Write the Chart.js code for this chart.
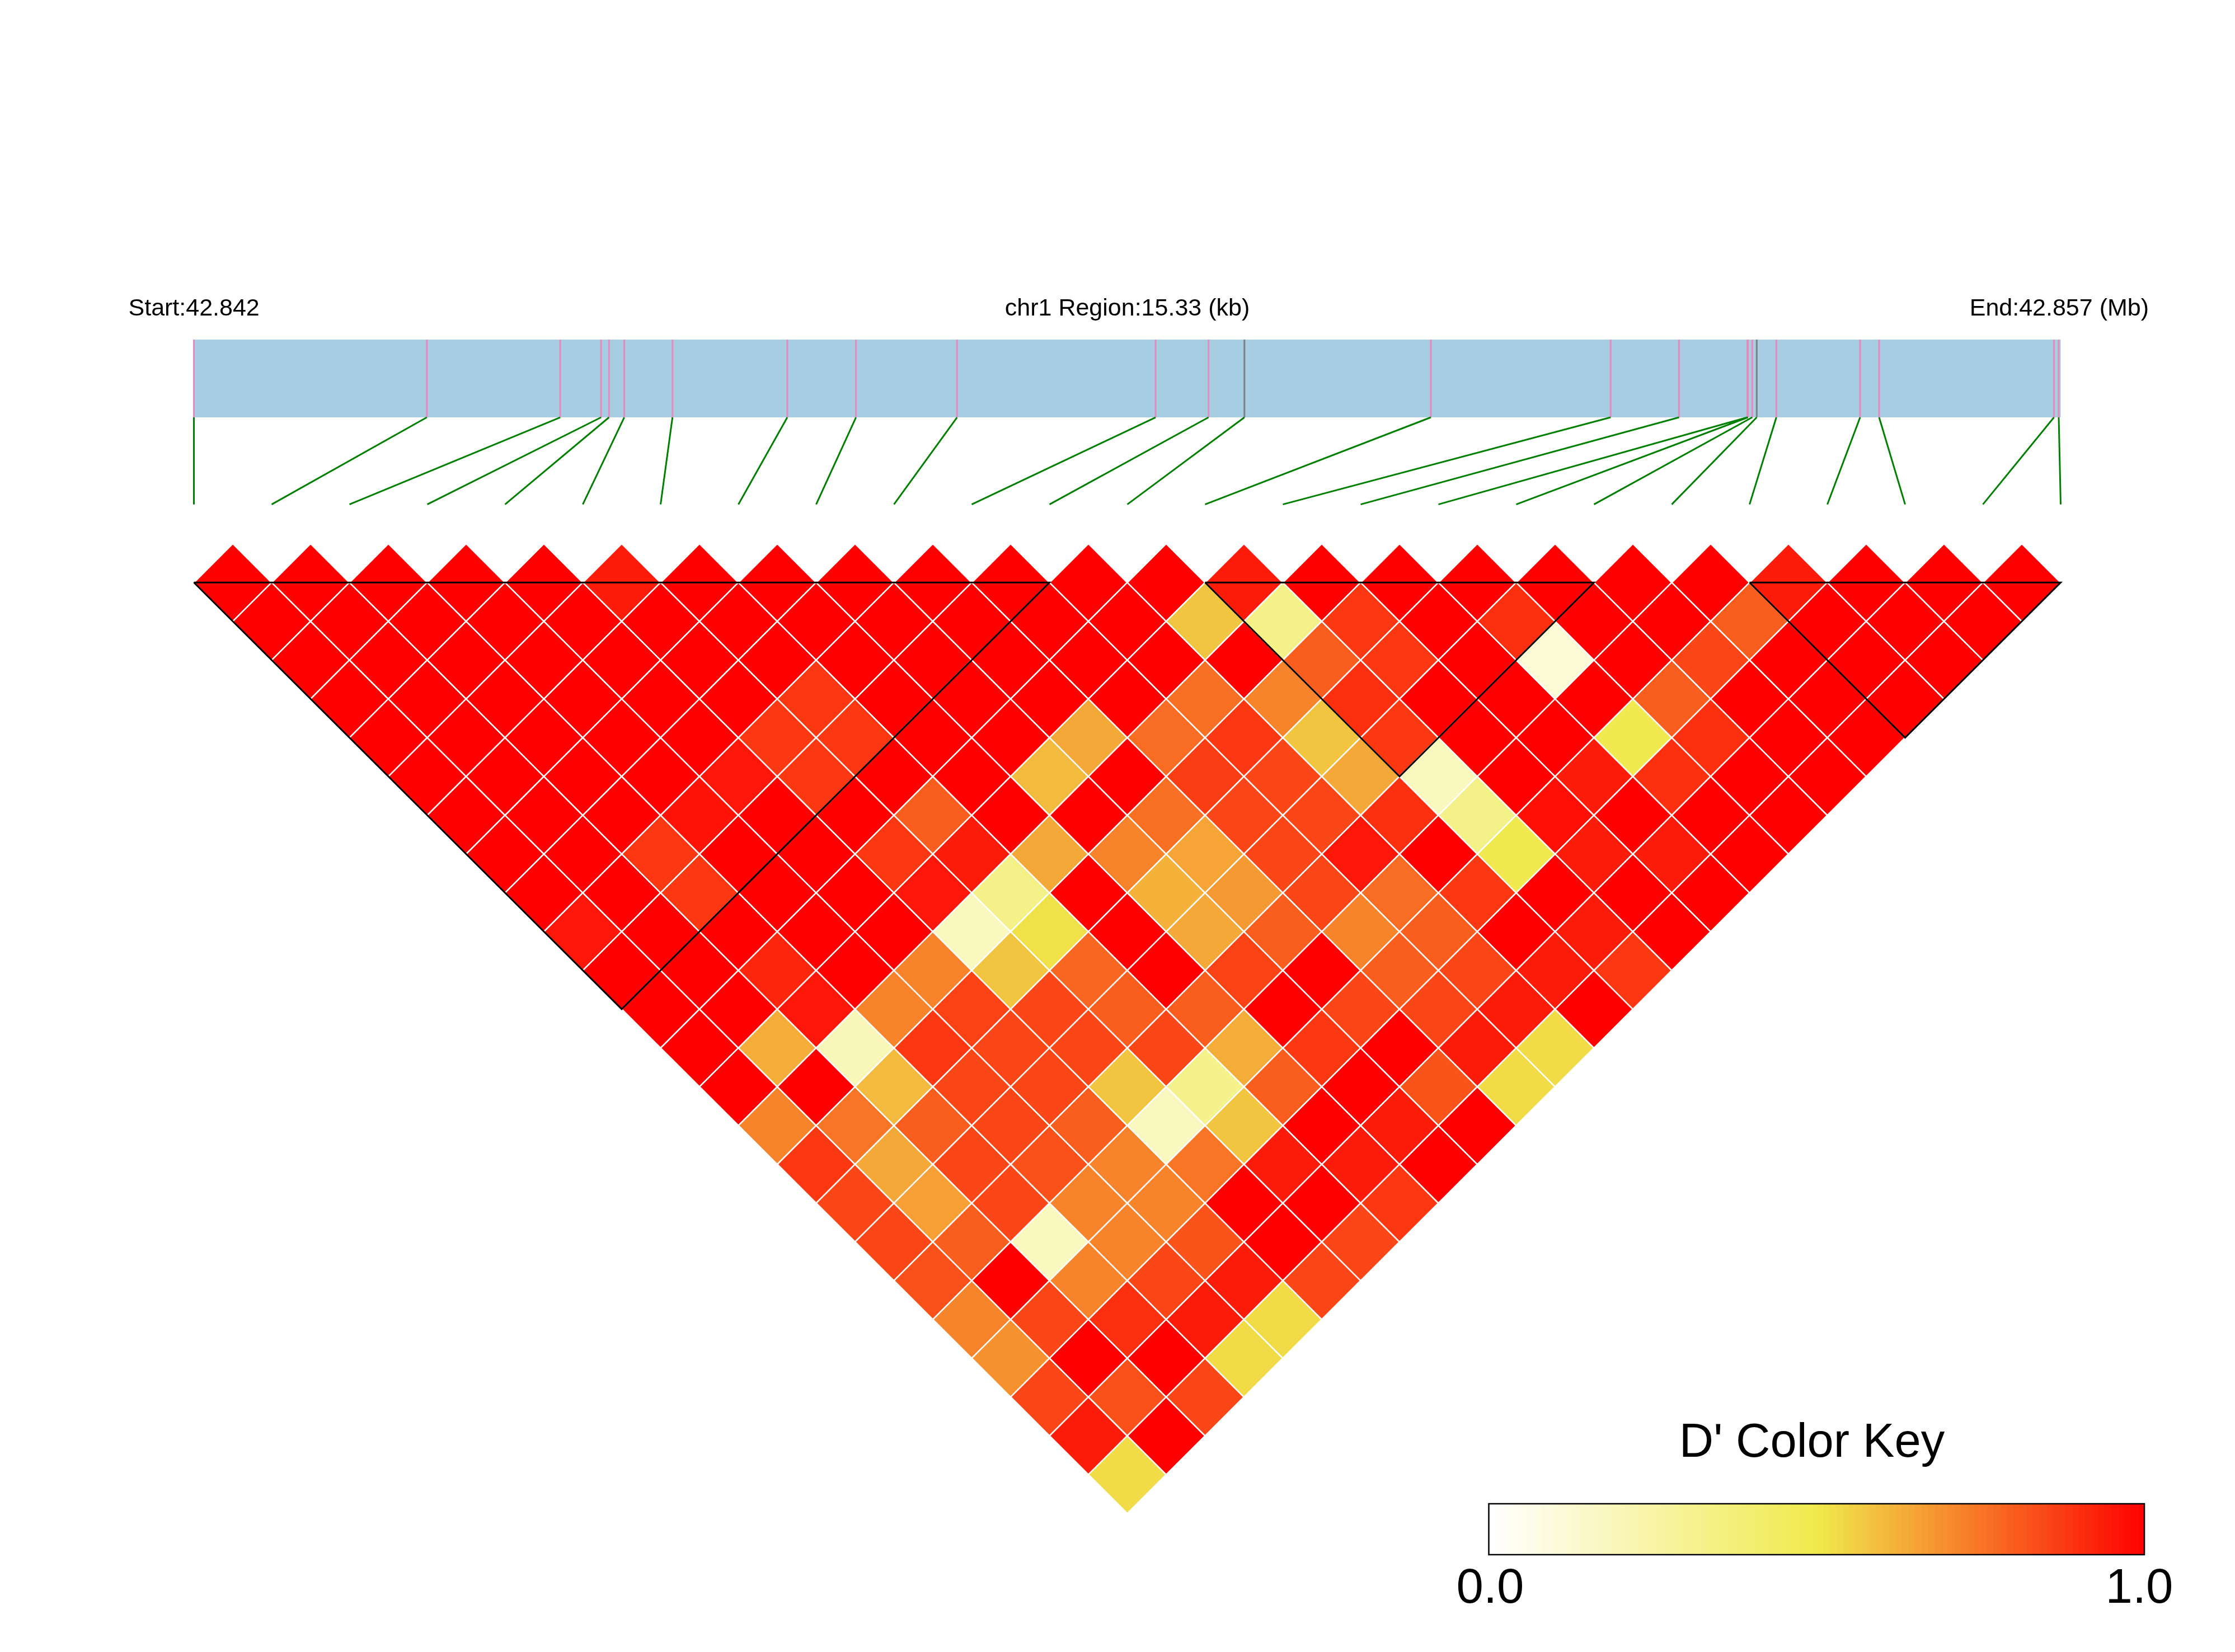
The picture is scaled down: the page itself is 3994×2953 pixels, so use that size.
<!DOCTYPE html>
<html><head><meta charset="utf-8">
<script src="https://cdn.jsdelivr.net/npm/chart.js@4.4.1/dist/chart.umd.min.js"></script>
<style>html,body{margin:0;padding:0;background:#fff;}canvas{display:block;}</style>
</head><body>
<canvas id="c" width="3994" height="2953"></canvas>
<script>
// ---------------- data ----------------
const regionStartLabel = "Start:42.842";
const regionMidLabel = "chr1 Region:15.33 (kb)";
const regionEndLabel = "End:42.857 (Mb)";
const regionKb = 15.33;
// SNP positions, kb from region start
const snpPosKb = [0, 1.913, 3.008, 3.344, 3.409, 3.534, 3.930, 4.873, 5.437, 6.267,
  7.897, 8.332, 8.627, 10.158, 11.634, 12.196, 12.757, 12.762, 12.797, 12.834,
  12.995, 13.683, 13.839, 15.275, 15.314];
const grayMarkers = [12, 19];
const ldBlocks = [[0, 11], [13, 18], [20, 24]];
// D' values: row i holds pairs (i, j) for j = i+1 .. 24
const dp00 = [1,1,1,1,1,1,1,1,1,0.95,1,1,1,1,0.72,0.88,0.85,0.85,0.83,0.72,0.69,0.85,0.94,0.53];
const dp01 = [1,1,1,1,1,1,1,1,1,1,1,1,0.63,1,0.75,0.64,0.66,0.8,1,0.85,1,0.83,1];
const dp02 = [1,1,1,1,1,1,1,0.88,0.88,1,0.92,0.95,0.2,0.6,0.8,0.85,0.85,0.18,0.72,0.9,1,0.85];
const dp03 = [1,1,1,1,1,1,0.96,1,1,1,1,0.72,0.88,0.85,0.85,0.83,0.72,0.72,0.85,0.94,0.53];
const dp04 = [1,1,1,1,1,0.95,1,1,1,1,0.72,0.86,0.85,0.85,0.8,0.72,0.72,0.82,0.94,0.53];
const dp05 = [0.94,1,1,1,0.88,0.88,1,0.88,0.95,0.18,0.58,0.85,0.85,0.58,0.18,0.75,1,1,0.85];
const dp06 = [1,1,1,0.88,0.88,1,0.8,0.94,0.33,0.52,0.78,0.8,0.85,0.32,0.58,0.94,1,0.85];
const dp07 = [1,1,1,1,1,1,1,0.64,1,1,1,0.8,0.63,0.8,1,0.94,0.88];
const dp08 = [1,1,1,1,1,0.6,1,0.72,0.62,0.64,0.86,1,0.88,1,0.94,1];
const dp09 = [1,1,1,1,0.64,1,0.76,0.65,0.67,0.8,1,0.85,1,0.82,1];
const dp10 = [1,1,1,1,0.77,0.87,0.85,0.85,0.85,0.72,0.8,0.85,0.94,0.53];
const dp11 = [1,1,1,0.76,0.88,0.85,0.85,0.95,0.77,0.8,0.85,0.94,0.53];
const dp12 = [1,0.58,1,0.72,0.58,0.64,0.9,1,0.88,1,0.94,1];
const dp13 = [0.94,0.33,0.8,0.9,0.88,0.18,0.33,0.49,1,0.94,0.88];
const dp14 = [1,0.88,0.88,1,1,1,0.97,0.94,1,1];
const dp15 = [1,1,1,1,1,0.94,1,0.94,1];
const dp16 = [1,0.9,0.12,1,0.49,0.9,1,1];
const dp17 = [1,1,1,0.8,0.9,1,1];
const dp18 = [1,1,0.85,1,1,1];
const dp19 = [1,0.8,1,1,1];
const dp20 = [0.94,1,1,1];
const dp21 = [1,1,1];
const dp22 = [1,1];
const dp23 = [1];
const dprimeRows = [dp00,dp01,dp02,dp03,dp04,dp05,dp06,dp07,dp08,dp09,dp10,dp11,dp12,
  dp13,dp14,dp15,dp16,dp17,dp18,dp19,dp20,dp21,dp22,dp23];
const keyLabels = ["0.0", "1.0"];
const keyTitle = "D' Color Key";

// ---------------- colours ----------------
const C_WHITE = [255,255,255], C_YEL = [240,234,76], C_RED = [255,0,0];
function mix(a, b, t) { return a.map((v, k) => Math.round(v + (b[k] - v) * t)); }
function ldColor(v) {
  const c = v <= 0.5 ? mix(C_WHITE, C_YEL, v / 0.5) : mix(C_YEL, C_RED, (v - 0.5) / 0.5);
  return `rgb(${c[0]},${c[1]},${c[2]})`;
}

// ---------------- build datasets ----------------
const nSnp = snpPosKb.length;
const cells = [];
dprimeRows.forEach((row, i) => row.forEach((v, k) => {
  const j = i + 1 + k;
  cells.push({ x: (i + j) / 2, y: j - i - 1, v });
}));
const genX = kb => kb / regionKb * (nSnp - 1);
const TRACK_TOP = -6.264, TRACK_BOT = -4.259, LINK_BOT = -2.014;
const pinkPts = [], grayPts = [], linkPts = [];
snpPosKb.forEach((kb, i) => {
  const gx = genX(kb);
  const target = grayMarkers.includes(i) ? grayPts : pinkPts;
  target.push({ x: gx, y: TRACK_TOP }, { x: gx, y: TRACK_BOT }, { x: gx, y: null });
  linkPts.push({ x: gx, y: TRACK_BOT }, { x: i, y: LINK_BOT }, { x: i, y: null });
});
const blockPts = [];
ldBlocks.forEach(([a, b]) => {
  blockPts.push({ x: a, y: 0 }, { x: b, y: 0 }, { x: (a + b) / 2, y: b - a }, { x: a, y: 0 }, { x: a, y: null });
});

const pxX = (chart, d) => Math.abs(chart.scales.x.getPixelForValue(d) - chart.scales.x.getPixelForValue(0));
const pxY = (chart, d) => Math.abs(chart.scales.y.getPixelForValue(d) - chart.scales.y.getPixelForValue(0));

const FONT = '"Liberation Sans", Arial, Helvetica, sans-serif';
const annotations = {
  id: 'annotations',
  afterDraw(chart) {
    const ctx = chart.ctx;
    ctx.save();
    ctx.fillStyle = '#000';
    ctx.textBaseline = 'alphabetic';
    ctx.font = '43px ' + FONT;
    ctx.textAlign = 'left';  ctx.fillText(regionStartLabel, 229.5, 564);
    ctx.textAlign = 'center'; ctx.fillText(regionMidLabel, chart.scales.x.getPixelForValue((nSnp - 1) / 2), 564);
    ctx.textAlign = 'right'; ctx.fillText(regionEndLabel, 3840, 564);
    // colour key
    const kx0 = 2660.5, kx1 = 3832, ky0 = 2688, ky1 = 2779;
    const steps = 100;
    for (let s = 0; s < steps; s++) {
      ctx.fillStyle = ldColor((s + 0.5) / steps);
      const xa = kx0 + (kx1 - kx0) * s / steps, xb = kx0 + (kx1 - kx0) * (s + 1) / steps;
      ctx.fillRect(xa, ky0, xb - xa + 0.6, ky1 - ky0);
    }
    ctx.strokeStyle = '#000'; ctx.lineWidth = 2.5;
    ctx.strokeRect(kx0, ky0, kx1 - kx0, ky1 - ky0);
    ctx.fillStyle = '#000';
    ctx.font = '85px ' + FONT; ctx.textAlign = 'center';
    ctx.fillText(keyTitle, 3238, 2604);
    ctx.font = '87px ' + FONT;
    ctx.fillText(keyLabels[0], 2663, 2865);
    ctx.fillText(keyLabels[1], 3823, 2865);
    ctx.restore();
  }
};

new Chart(document.getElementById('c'), {
  type: 'scatter',
  data: {
    datasets: [
      { label: 'blocks', data: blockPts, showLine: true, borderColor: '#000', borderWidth: 3,
        pointRadius: 0, spanGaps: false, fill: false, order: 1 },
      { label: 'LD', data: cells, pointStyle: 'rectRot',
        pointRadius: c => (pxX(c.chart, 0.5) + pxY(c.chart, 1)) / 2,
        pointHoverRadius: c => (pxX(c.chart, 0.5) + pxY(c.chart, 1)) / 2,
        backgroundColor: c => ldColor(c.raw ? c.raw.v : 1),
        borderColor: '#fff', borderWidth: 2.5, order: 2 },
      { label: 'links', data: linkPts, showLine: true, borderColor: '#008000', borderWidth: 3,
        pointRadius: 0, spanGaps: false, fill: false, order: 3 },
      { label: 'gray', data: grayPts, showLine: true, borderColor: '#7f7f7f', borderWidth: 3,
        pointRadius: 0, spanGaps: false, fill: false, order: 4 },
      { label: 'markers', data: pinkPts, showLine: true, borderColor: '#e58bc0', borderWidth: 3,
        pointRadius: 0, spanGaps: false, fill: false, order: 5 },
      { label: 'track', data: [{ x: 0, y: (TRACK_TOP + TRACK_BOT) / 2 }, { x: nSnp - 1, y: (TRACK_TOP + TRACK_BOT) / 2 }],
        showLine: true, borderColor: '#a6cde1', borderCapStyle: 'butt',
        borderWidth: c => pxY(c.chart, TRACK_BOT - TRACK_TOP), pointRadius: 0, fill: false, order: 6 }
    ]
  },
  options: {
    responsive: false, animation: false, devicePixelRatio: 1, events: [],
    layout: { padding: 0 },
    plugins: { legend: { display: false }, tooltip: { enabled: false }, title: { display: false } },
    scales: {
      x: { type: 'linear', display: false, bounds: 'data', min: -346.5 / 139, max: (3994 - 346.5) / 139 },
      y: { type: 'linear', display: false, bounds: 'data', reverse: true, min: -1041.3 / 69.33, max: (2953 - 1041.3) / 69.33 }
    }
  },
  plugins: [annotations]
});
</script>
</body></html>
